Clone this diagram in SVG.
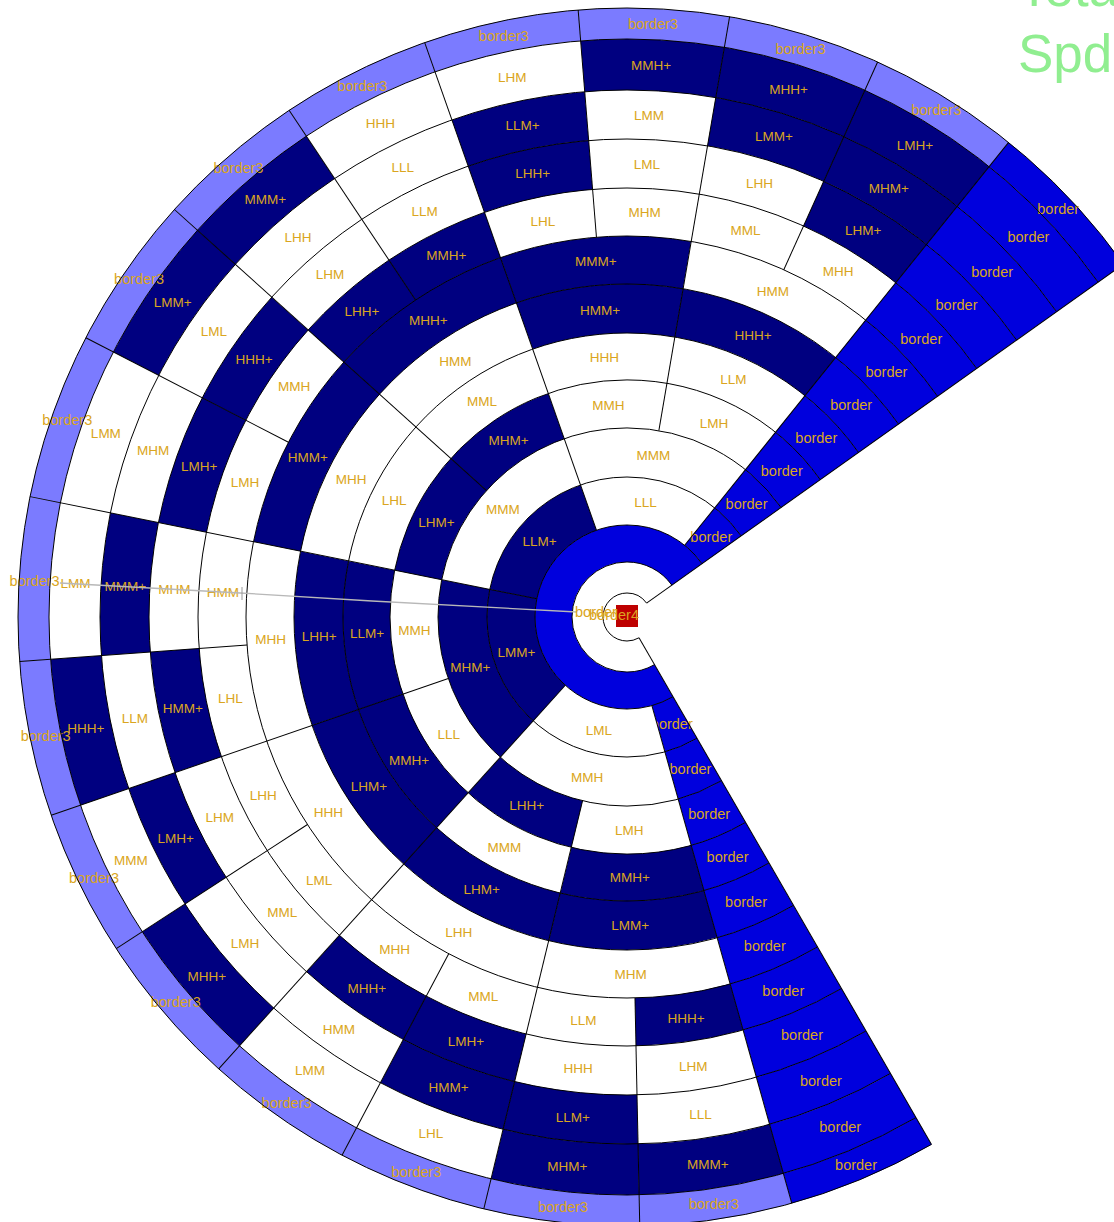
<svg xmlns="http://www.w3.org/2000/svg" width="1114" height="1222" viewBox="0 0 1114 1222">
<style>
text{font-family:"Liberation Sans",Arial,sans-serif;font-size:13.5px;fill:#DAA520;text-anchor:middle}
.bd{font-size:14.5px}
.w{stroke:#FFFFFF}.n{stroke:#000080}.b{stroke:#0000DD}.l{stroke:#7B7BFF}
.full{stroke-dasharray:264.6 400;stroke-dashoffset:-60}
.wl{stroke-dasharray:14.3 400;stroke-dashoffset:-60}
.wu{stroke-dasharray:15.8 400;stroke-dashoffset:-308.8}
.q0{stroke-dasharray:57.8 400;stroke-dashoffset:-74.3}
.q1{stroke-dasharray:59.3 400;stroke-dashoffset:-132.1}
.q2{stroke-dasharray:59.2 400;stroke-dashoffset:-191.4}
.q3{stroke-dasharray:58.2 400;stroke-dashoffset:-250.6}
.p0{stroke-dasharray:29.3 400;stroke-dashoffset:-74.3}
.p1{stroke-dasharray:28.5 400;stroke-dashoffset:-103.6}
.p2{stroke-dasharray:28.9 400;stroke-dashoffset:-132.1}
.p3{stroke-dasharray:30.4 400;stroke-dashoffset:-161}
.p4{stroke-dasharray:30.6 400;stroke-dashoffset:-191.4}
.p5{stroke-dasharray:28.6 400;stroke-dashoffset:-222}
.p6{stroke-dasharray:29.1 400;stroke-dashoffset:-250.6}
.p7{stroke-dasharray:29.1 400;stroke-dashoffset:-279.7}
.s0{stroke-dasharray:14.5 400;stroke-dashoffset:-74.3}
.s1{stroke-dasharray:14.8 400;stroke-dashoffset:-88.8}
.s2{stroke-dasharray:14.3 400;stroke-dashoffset:-103.6}
.s3{stroke-dasharray:14.2 400;stroke-dashoffset:-117.9}
.s4{stroke-dasharray:14.9 400;stroke-dashoffset:-132.1}
.s5{stroke-dasharray:14 400;stroke-dashoffset:-147}
.s6{stroke-dasharray:14.8 400;stroke-dashoffset:-161}
.s7{stroke-dasharray:15.6 400;stroke-dashoffset:-175.8}
.s8{stroke-dasharray:15.9 400;stroke-dashoffset:-191.4}
.s9{stroke-dasharray:14.7 400;stroke-dashoffset:-207.3}
.s10{stroke-dasharray:14.3 400;stroke-dashoffset:-222}
.s11{stroke-dasharray:14.3 400;stroke-dashoffset:-236.3}
.s12{stroke-dasharray:14.8 400;stroke-dashoffset:-250.6}
.s13{stroke-dasharray:14.3 400;stroke-dashoffset:-265.4}
.s14{stroke-dasharray:14.6 400;stroke-dashoffset:-279.7}
.s15{stroke-dasharray:14.5 400;stroke-dashoffset:-294.3}
.arcs path{fill:none;stroke:#000;stroke-width:1;stroke-dasharray:264.6 400;stroke-dashoffset:-60}
.rad line{stroke:#000;stroke-width:1}
</style>
<defs>
<path id="m0" fill="none" stroke-width="31" pathLength="360" d="M39.5 0A39.5 39.5 0 1 1 -39.5 0A39.5 39.5 0 1 1 39.5 0"/>
<path id="m1" fill="none" stroke-width="37" pathLength="360" d="M73.5 0A73.5 73.5 0 1 1 -73.5 0A73.5 73.5 0 1 1 73.5 0"/>
<path id="m2" fill="none" stroke-width="48" pathLength="360" d="M116 0A116 116 0 1 1 -116 0A116 116 0 1 1 116 0"/>
<path id="m3" fill="none" stroke-width="49" pathLength="360" d="M164.5 0A164.5 164.5 0 1 1 -164.5 0A164.5 164.5 0 1 1 164.5 0"/>
<path id="m4" fill="none" stroke-width="48" pathLength="360" d="M213 0A213 213 0 1 1 -213 0A213 213 0 1 1 213 0"/>
<path id="m5" fill="none" stroke-width="47" pathLength="360" d="M260.5 0A260.5 260.5 0 1 1 -260.5 0A260.5 260.5 0 1 1 260.5 0"/>
<path id="m6" fill="none" stroke-width="49" pathLength="360" d="M308.5 0A308.5 308.5 0 1 1 -308.5 0A308.5 308.5 0 1 1 308.5 0"/>
<path id="m7" fill="none" stroke-width="48" pathLength="360" d="M357 0A357 357 0 1 1 -357 0A357 357 0 1 1 357 0"/>
<path id="m8" fill="none" stroke-width="48" pathLength="360" d="M405 0A405 405 0 1 1 -405 0A405 405 0 1 1 405 0"/>
<path id="m9" fill="none" stroke-width="49" pathLength="360" d="M453.5 0A453.5 453.5 0 1 1 -453.5 0A453.5 453.5 0 1 1 453.5 0"/>
<path id="m10" fill="none" stroke-width="49" pathLength="360" d="M502.5 0A502.5 502.5 0 1 1 -502.5 0A502.5 502.5 0 1 1 502.5 0"/>
<path id="m11" fill="none" stroke-width="51" pathLength="360" d="M552.5 0A552.5 552.5 0 1 1 -552.5 0A552.5 552.5 0 1 1 552.5 0"/>
<path id="m12" fill="none" stroke-width="31" pathLength="360" d="M593.5 0A593.5 593.5 0 1 1 -593.5 0A593.5 593.5 0 1 1 593.5 0"/>
</defs>
<rect width="1114" height="1222" fill="#FFFFFF"/>
<g transform="translate(627 617)">
<g id="nodes">
<g id="n0"><use href="#m0" class="w full"/></g>
<g id="n1"><use href="#m1" class="b full"/></g>
<g id="L2">
<g id="n2-wl"><use href="#m2" class="b wl"/><text class="bd" transform="rotate(67.3) translate(116 0) rotate(-67.3)" y="5">border</text></g>
<g id="n2-0"><use href="#m2" class="w q0"/><text transform="rotate(104) translate(116 0) rotate(-104)" y="5">LML</text></g>
<g id="n2-1"><use href="#m2" class="n q1"/><text transform="rotate(162.3) translate(116 0) rotate(-162.3)" y="5">LMM+</text></g>
<g id="n2-2"><use href="#m2" class="n q2"/><text transform="rotate(221) translate(116 0) rotate(-221)" y="5">LLM+</text></g>
<g id="n2-3"><use href="#m2" class="w q3"/><text transform="rotate(279.2) translate(116 0) rotate(-279.2)" y="5">LLL</text></g>
<g id="n2-wu"><use href="#m2" class="b wu"/><text class="bd" transform="rotate(316.6) translate(116 0) rotate(-316.6)" y="5">border</text></g>
</g>
<g id="L3">
<g id="n3-wl"><use href="#m3" class="b wl"/><text class="bd" transform="rotate(67.3) translate(164.5 0) rotate(-67.3)" y="5">border</text></g>
<g id="n3-0"><use href="#m3" class="w q0"/><text transform="rotate(104) translate(164.5 0) rotate(-104)" y="5">MMH</text></g>
<g id="n3-1"><use href="#m3" class="n q1"/><text transform="rotate(162.3) translate(164.5 0) rotate(-162.3)" y="5">MHM+</text></g>
<g id="n3-2"><use href="#m3" class="w q2"/><text transform="rotate(221) translate(164.5 0) rotate(-221)" y="5">MMM</text></g>
<g id="n3-3"><use href="#m3" class="w q3"/><text transform="rotate(279.2) translate(164.5 0) rotate(-279.2)" y="5">MMM</text></g>
<g id="n3-wu"><use href="#m3" class="b wu"/><text class="bd" transform="rotate(316.6) translate(164.5 0) rotate(-316.6)" y="5">border</text></g>
</g>
<g id="L4">
<g id="n4-wl"><use href="#m4" class="b wl"/><text class="bd" transform="rotate(67.3) translate(213 0) rotate(-67.3)" y="5">border</text></g>
<g id="n4-0"><use href="#m4" class="w p0"/><text transform="rotate(89.4) translate(213 0) rotate(-89.4)" y="5">LMH</text></g>
<g id="n4-1"><use href="#m4" class="n p1"/><text transform="rotate(118.1) translate(213 0) rotate(-118.1)" y="5">LHH+</text></g>
<g id="n4-2"><use href="#m4" class="w p2"/><text transform="rotate(146.8) translate(213 0) rotate(-146.8)" y="5">LLL</text></g>
<g id="n4-3"><use href="#m4" class="w p3"/><text transform="rotate(176.4) translate(213 0) rotate(-176.4)" y="5">MMH</text></g>
<g id="n4-4"><use href="#m4" class="n p4"/><text transform="rotate(206.6) translate(213 0) rotate(-206.6)" y="5">LHM+</text></g>
<g id="n4-5"><use href="#m4" class="n p5"/><text transform="rotate(236.2) translate(213 0) rotate(-236.2)" y="5">MHM+</text></g>
<g id="n4-6"><use href="#m4" class="w p6"/><text transform="rotate(265) translate(213 0) rotate(-265)" y="5">MMH</text></g>
<g id="n4-7"><use href="#m4" class="w p7"/><text transform="rotate(294.1) translate(213 0) rotate(-294.1)" y="5">LMH</text></g>
<g id="n4-wu"><use href="#m4" class="b wu"/><text class="bd" transform="rotate(316.6) translate(213 0) rotate(-316.6)" y="5">border</text></g>
</g>
<g id="L5">
<g id="n5-wl"><use href="#m5" class="b wl"/><text class="bd" transform="rotate(67.3) translate(260.5 0) rotate(-67.3)" y="5">border</text></g>
<g id="n5-0"><use href="#m5" class="n p0"/><text transform="rotate(89.4) translate(260.5 0) rotate(-89.4)" y="5">MMH+</text></g>
<g id="n5-1"><use href="#m5" class="w p1"/><text transform="rotate(118.1) translate(260.5 0) rotate(-118.1)" y="5">MMM</text></g>
<g id="n5-2"><use href="#m5" class="n p2"/><text transform="rotate(146.8) translate(260.5 0) rotate(-146.8)" y="5">MMH+</text></g>
<g id="n5-3"><use href="#m5" class="n p3"/><text transform="rotate(176.4) translate(260.5 0) rotate(-176.4)" y="5">LLM+</text></g>
<g id="n5-4"><use href="#m5" class="w p4"/><text transform="rotate(206.6) translate(260.5 0) rotate(-206.6)" y="5">LHL</text></g>
<g id="n5-5"><use href="#m5" class="w p5"/><text transform="rotate(236.2) translate(260.5 0) rotate(-236.2)" y="5">MML</text></g>
<g id="n5-6"><use href="#m5" class="w p6"/><text transform="rotate(265) translate(260.5 0) rotate(-265)" y="5">HHH</text></g>
<g id="n5-7"><use href="#m5" class="w p7"/><text transform="rotate(294.1) translate(260.5 0) rotate(-294.1)" y="5">LLM</text></g>
<g id="n5-wu"><use href="#m5" class="b wu"/><text class="bd" transform="rotate(316.6) translate(260.5 0) rotate(-316.6)" y="5">border</text></g>
</g>
<g id="L6">
<g id="n6-wl"><use href="#m6" class="b wl"/><text class="bd" transform="rotate(67.3) translate(308.5 0) rotate(-67.3)" y="5">border</text></g>
<g id="n6-0"><use href="#m6" class="n p0"/><text transform="rotate(89.4) translate(308.5 0) rotate(-89.4)" y="5">LMM+</text></g>
<g id="n6-1"><use href="#m6" class="n p1"/><text transform="rotate(118.1) translate(308.5 0) rotate(-118.1)" y="5">LHM+</text></g>
<g id="n6-2"><use href="#m6" class="n p2"/><text transform="rotate(146.8) translate(308.5 0) rotate(-146.8)" y="5">LHM+</text></g>
<g id="n6-3"><use href="#m6" class="n p3"/><text transform="rotate(176.4) translate(308.5 0) rotate(-176.4)" y="5">LHH+</text></g>
<g id="n6-4"><use href="#m6" class="w p4"/><text transform="rotate(206.6) translate(308.5 0) rotate(-206.6)" y="5">MHH</text></g>
<g id="n6-5"><use href="#m6" class="w p5"/><text transform="rotate(236.2) translate(308.5 0) rotate(-236.2)" y="5">HMM</text></g>
<g id="n6-6"><use href="#m6" class="n p6"/><text transform="rotate(265) translate(308.5 0) rotate(-265)" y="5">HMM+</text></g>
<g id="n6-7"><use href="#m6" class="n p7"/><text transform="rotate(294.1) translate(308.5 0) rotate(-294.1)" y="5">HHH+</text></g>
<g id="n6-wu"><use href="#m6" class="b wu"/><text class="bd" transform="rotate(316.6) translate(308.5 0) rotate(-316.6)" y="5">border</text></g>
</g>
<g id="L7">
<g id="n7-wl"><use href="#m7" class="b wl"/><text class="bd" transform="rotate(67.3) translate(357 0) rotate(-67.3)" y="5">border</text></g>
<g id="n7-0"><use href="#m7" class="w p0"/><text transform="rotate(89.4) translate(357 0) rotate(-89.4)" y="5">MHM</text></g>
<g id="n7-1"><use href="#m7" class="w p1"/><text transform="rotate(118.1) translate(357 0) rotate(-118.1)" y="5">LHH</text></g>
<g id="n7-2"><use href="#m7" class="w p2"/><text transform="rotate(146.8) translate(357 0) rotate(-146.8)" y="5">HHH</text></g>
<g id="n7-3"><use href="#m7" class="w p3"/><text transform="rotate(176.4) translate(357 0) rotate(-176.4)" y="5">MHH</text></g>
<g id="n7-4"><use href="#m7" class="n p4"/><text transform="rotate(206.6) translate(357 0) rotate(-206.6)" y="5">HMM+</text></g>
<g id="n7-5"><use href="#m7" class="n p5"/><text transform="rotate(236.2) translate(357 0) rotate(-236.2)" y="5">MHH+</text></g>
<g id="n7-6"><use href="#m7" class="n p6"/><text transform="rotate(265) translate(357 0) rotate(-265)" y="5">MMM+</text></g>
<g id="n7-7"><use href="#m7" class="w p7"/><text transform="rotate(294.1) translate(357 0) rotate(-294.1)" y="5">HMM</text></g>
<g id="n7-wu"><use href="#m7" class="b wu"/><text class="bd" transform="rotate(316.6) translate(357 0) rotate(-316.6)" y="5">border</text></g>
</g>
<g id="L8">
<g id="n8-wl"><use href="#m8" class="b wl"/><text class="bd" transform="rotate(67.3) translate(405 0) rotate(-67.3)" y="5">border</text></g>
<g id="n8-0"><use href="#m8" class="n s0"/><text transform="rotate(81.6) translate(405 0) rotate(-81.6)" y="5">HHH+</text></g>
<g id="n8-1"><use href="#m8" class="w s1"/><text transform="rotate(96.2) translate(405 0) rotate(-96.2)" y="5">LLM</text></g>
<g id="n8-2"><use href="#m8" class="w s2"/><text transform="rotate(110.8) translate(405 0) rotate(-110.8)" y="5">MML</text></g>
<g id="n8-3"><use href="#m8" class="w s3"/><text transform="rotate(125) translate(405 0) rotate(-125)" y="5">MHH</text></g>
<g id="n8-4"><use href="#m8" class="w s4"/><text transform="rotate(139.5) translate(405 0) rotate(-139.5)" y="5">LML</text></g>
<g id="n8-5"><use href="#m8" class="w s5"/><text transform="rotate(153.9) translate(405 0) rotate(-153.9)" y="5">LHH</text></g>
<g id="n8-6"><use href="#m8" class="w s6"/><text transform="rotate(168.4) translate(405 0) rotate(-168.4)" y="5">LHL</text></g>
<g id="n8-7"><use href="#m8" class="w s7"/><text transform="rotate(183.5) translate(405 0) rotate(-183.5)" y="5">HMM</text></g>
<g id="n8-8"><use href="#m8" class="w s8"/><text transform="rotate(199.4) translate(405 0) rotate(-199.4)" y="5">LMH</text></g>
<g id="n8-9"><use href="#m8" class="w s9"/><text transform="rotate(214.7) translate(405 0) rotate(-214.7)" y="5">MMH</text></g>
<g id="n8-10"><use href="#m8" class="n s10"/><text transform="rotate(229.1) translate(405 0) rotate(-229.1)" y="5">LHH+</text></g>
<g id="n8-11"><use href="#m8" class="n s11"/><text transform="rotate(243.5) translate(405 0) rotate(-243.5)" y="5">MMH+</text></g>
<g id="n8-12"><use href="#m8" class="w s12"/><text transform="rotate(258) translate(405 0) rotate(-258)" y="5">LHL</text></g>
<g id="n8-13"><use href="#m8" class="w s13"/><text transform="rotate(272.5) translate(405 0) rotate(-272.5)" y="5">MHM</text></g>
<g id="n8-14"><use href="#m8" class="w s14"/><text transform="rotate(287) translate(405 0) rotate(-287)" y="5">MML</text></g>
<g id="n8-15"><use href="#m8" class="w s15"/><text transform="rotate(301.4) translate(405 0) rotate(-301.4)" y="5">MHH</text></g>
<g id="n8-wu"><use href="#m8" class="b wu"/><text class="bd" transform="rotate(316.6) translate(405 0) rotate(-316.6)" y="5">border</text></g>
</g>
<g id="L9">
<g id="n9-wl"><use href="#m9" class="b wl"/><text class="bd" transform="rotate(67.3) translate(453.5 0) rotate(-67.3)" y="5">border</text></g>
<g id="n9-0"><use href="#m9" class="w s0"/><text transform="rotate(81.6) translate(453.5 0) rotate(-81.6)" y="5">LHM</text></g>
<g id="n9-1"><use href="#m9" class="w s1"/><text transform="rotate(96.2) translate(453.5 0) rotate(-96.2)" y="5">HHH</text></g>
<g id="n9-2"><use href="#m9" class="n s2"/><text transform="rotate(110.8) translate(453.5 0) rotate(-110.8)" y="5">LMH+</text></g>
<g id="n9-3"><use href="#m9" class="n s3"/><text transform="rotate(125) translate(453.5 0) rotate(-125)" y="5">MHH+</text></g>
<g id="n9-4"><use href="#m9" class="w s4"/><text transform="rotate(139.5) translate(453.5 0) rotate(-139.5)" y="5">MML</text></g>
<g id="n9-5"><use href="#m9" class="w s5"/><text transform="rotate(153.9) translate(453.5 0) rotate(-153.9)" y="5">LHM</text></g>
<g id="n9-6"><use href="#m9" class="n s6"/><text transform="rotate(168.4) translate(453.5 0) rotate(-168.4)" y="5">HMM+</text></g>
<g id="n9-7"><use href="#m9" class="w s7"/><text transform="rotate(183.5) translate(453.5 0) rotate(-183.5)" y="5">MHM</text></g>
<g id="n9-8"><use href="#m9" class="n s8"/><text transform="rotate(199.4) translate(453.5 0) rotate(-199.4)" y="5">LMH+</text></g>
<g id="n9-9"><use href="#m9" class="n s9"/><text transform="rotate(214.7) translate(453.5 0) rotate(-214.7)" y="5">HHH+</text></g>
<g id="n9-10"><use href="#m9" class="w s10"/><text transform="rotate(229.1) translate(453.5 0) rotate(-229.1)" y="5">LHM</text></g>
<g id="n9-11"><use href="#m9" class="w s11"/><text transform="rotate(243.5) translate(453.5 0) rotate(-243.5)" y="5">LLM</text></g>
<g id="n9-12"><use href="#m9" class="n s12"/><text transform="rotate(258) translate(453.5 0) rotate(-258)" y="5">LHH+</text></g>
<g id="n9-13"><use href="#m9" class="w s13"/><text transform="rotate(272.5) translate(453.5 0) rotate(-272.5)" y="5">LML</text></g>
<g id="n9-14"><use href="#m9" class="w s14"/><text transform="rotate(287) translate(453.5 0) rotate(-287)" y="5">LHH</text></g>
<g id="n9-15"><use href="#m9" class="n s15"/><text transform="rotate(301.4) translate(453.5 0) rotate(-301.4)" y="5">LHM+</text></g>
<g id="n9-wu"><use href="#m9" class="b wu"/><text class="bd" transform="rotate(316.6) translate(453.5 0) rotate(-316.6)" y="5">border</text></g>
</g>
<g id="L10">
<g id="n10-wl"><use href="#m10" class="b wl"/><text class="bd" transform="rotate(67.3) translate(502.5 0) rotate(-67.3)" y="5">border</text></g>
<g id="n10-0"><use href="#m10" class="w s0"/><text transform="rotate(81.6) translate(502.5 0) rotate(-81.6)" y="5">LLL</text></g>
<g id="n10-1"><use href="#m10" class="n s1"/><text transform="rotate(96.2) translate(502.5 0) rotate(-96.2)" y="5">LLM+</text></g>
<g id="n10-2"><use href="#m10" class="n s2"/><text transform="rotate(110.8) translate(502.5 0) rotate(-110.8)" y="5">HMM+</text></g>
<g id="n10-3"><use href="#m10" class="w s3"/><text transform="rotate(125) translate(502.5 0) rotate(-125)" y="5">HMM</text></g>
<g id="n10-4"><use href="#m10" class="w s4"/><text transform="rotate(139.5) translate(502.5 0) rotate(-139.5)" y="5">LMH</text></g>
<g id="n10-5"><use href="#m10" class="n s5"/><text transform="rotate(153.9) translate(502.5 0) rotate(-153.9)" y="5">LMH+</text></g>
<g id="n10-6"><use href="#m10" class="w s6"/><text transform="rotate(168.4) translate(502.5 0) rotate(-168.4)" y="5">LLM</text></g>
<g id="n10-7"><use href="#m10" class="n s7"/><text transform="rotate(183.5) translate(502.5 0) rotate(-183.5)" y="5">MMM+</text></g>
<g id="n10-8"><use href="#m10" class="w s8"/><text transform="rotate(199.4) translate(502.5 0) rotate(-199.4)" y="5">MHM</text></g>
<g id="n10-9"><use href="#m10" class="w s9"/><text transform="rotate(214.7) translate(502.5 0) rotate(-214.7)" y="5">LML</text></g>
<g id="n10-10"><use href="#m10" class="w s10"/><text transform="rotate(229.1) translate(502.5 0) rotate(-229.1)" y="5">LHH</text></g>
<g id="n10-11"><use href="#m10" class="w s11"/><text transform="rotate(243.5) translate(502.5 0) rotate(-243.5)" y="5">LLL</text></g>
<g id="n10-12"><use href="#m10" class="n s12"/><text transform="rotate(258) translate(502.5 0) rotate(-258)" y="5">LLM+</text></g>
<g id="n10-13"><use href="#m10" class="w s13"/><text transform="rotate(272.5) translate(502.5 0) rotate(-272.5)" y="5">LMM</text></g>
<g id="n10-14"><use href="#m10" class="n s14"/><text transform="rotate(287) translate(502.5 0) rotate(-287)" y="5">LMM+</text></g>
<g id="n10-15"><use href="#m10" class="n s15"/><text transform="rotate(301.4) translate(502.5 0) rotate(-301.4)" y="5">MHM+</text></g>
<g id="n10-wu"><use href="#m10" class="b wu"/><text class="bd" transform="rotate(316.6) translate(502.5 0) rotate(-316.6)" y="5">border</text></g>
</g>
<g id="L11">
<g id="n11-wl"><use href="#m11" class="b wl"/><text class="bd" transform="rotate(67.3) translate(552.5 0) rotate(-67.3)" y="5">border</text></g>
<g id="n11-0"><use href="#m11" class="n s0"/><text transform="rotate(81.6) translate(552.5 0) rotate(-81.6)" y="5">MMM+</text></g>
<g id="n11-1"><use href="#m11" class="n s1"/><text transform="rotate(96.2) translate(552.5 0) rotate(-96.2)" y="5">MHM+</text></g>
<g id="n11-2"><use href="#m11" class="w s2"/><text transform="rotate(110.8) translate(552.5 0) rotate(-110.8)" y="5">LHL</text></g>
<g id="n11-3"><use href="#m11" class="w s3"/><text transform="rotate(125) translate(552.5 0) rotate(-125)" y="5">LMM</text></g>
<g id="n11-4"><use href="#m11" class="n s4"/><text transform="rotate(139.5) translate(552.5 0) rotate(-139.5)" y="5">MHH+</text></g>
<g id="n11-5"><use href="#m11" class="w s5"/><text transform="rotate(153.9) translate(552.5 0) rotate(-153.9)" y="5">MMM</text></g>
<g id="n11-6"><use href="#m11" class="n s6"/><text transform="rotate(168.4) translate(552.5 0) rotate(-168.4)" y="5">HHH+</text></g>
<g id="n11-7"><use href="#m11" class="w s7"/><text transform="rotate(183.5) translate(552.5 0) rotate(-183.5)" y="5">LMM</text></g>
<g id="n11-8"><use href="#m11" class="w s8"/><text transform="rotate(199.4) translate(552.5 0) rotate(-199.4)" y="5">LMM</text></g>
<g id="n11-9"><use href="#m11" class="n s9"/><text transform="rotate(214.7) translate(552.5 0) rotate(-214.7)" y="5">LMM+</text></g>
<g id="n11-10"><use href="#m11" class="n s10"/><text transform="rotate(229.1) translate(552.5 0) rotate(-229.1)" y="5">MMM+</text></g>
<g id="n11-11"><use href="#m11" class="w s11"/><text transform="rotate(243.5) translate(552.5 0) rotate(-243.5)" y="5">HHH</text></g>
<g id="n11-12"><use href="#m11" class="w s12"/><text transform="rotate(258) translate(552.5 0) rotate(-258)" y="5">LHM</text></g>
<g id="n11-13"><use href="#m11" class="n s13"/><text transform="rotate(272.5) translate(552.5 0) rotate(-272.5)" y="5">MMH+</text></g>
<g id="n11-14"><use href="#m11" class="n s14"/><text transform="rotate(287) translate(552.5 0) rotate(-287)" y="5">MHH+</text></g>
<g id="n11-15"><use href="#m11" class="n s15"/><text transform="rotate(301.4) translate(552.5 0) rotate(-301.4)" y="5">LMH+</text></g>
<g id="n11-wu"><use href="#m11" class="b wu"/><text class="bd" transform="rotate(316.6) translate(552.5 0) rotate(-316.6)" y="5">border</text></g>
</g>
<g id="L12">
<g id="n12-wl"><use href="#m12" class="b wl"/><text class="bd" transform="rotate(67.3) translate(593.5 0) rotate(-67.3)" y="5">border</text></g>
<g id="n12-0"><use href="#m12" class="l s0"/><text class="bd" transform="rotate(81.6) translate(593.5 0) rotate(-81.6)" y="5">border3</text></g>
<g id="n12-1"><use href="#m12" class="l s1"/><text class="bd" transform="rotate(96.2) translate(593.5 0) rotate(-96.2)" y="5">border3</text></g>
<g id="n12-2"><use href="#m12" class="l s2"/><text class="bd" transform="rotate(110.8) translate(593.5 0) rotate(-110.8)" y="5">border3</text></g>
<g id="n12-3"><use href="#m12" class="l s3"/><text class="bd" transform="rotate(125) translate(593.5 0) rotate(-125)" y="5">border3</text></g>
<g id="n12-4"><use href="#m12" class="l s4"/><text class="bd" transform="rotate(139.5) translate(593.5 0) rotate(-139.5)" y="5">border3</text></g>
<g id="n12-5"><use href="#m12" class="l s5"/><text class="bd" transform="rotate(153.9) translate(593.5 0) rotate(-153.9)" y="5">border3</text></g>
<g id="n12-6"><use href="#m12" class="l s6"/><text class="bd" transform="rotate(168.4) translate(593.5 0) rotate(-168.4)" y="5">border3</text></g>
<g id="n12-7"><use href="#m12" class="l s7"/><text class="bd" transform="rotate(183.5) translate(593.5 0) rotate(-183.5)" y="5">border3</text></g>
<g id="n12-8"><use href="#m12" class="l s8"/><text class="bd" transform="rotate(199.4) translate(593.5 0) rotate(-199.4)" y="5">border3</text></g>
<g id="n12-9"><use href="#m12" class="l s9"/><text class="bd" transform="rotate(214.7) translate(593.5 0) rotate(-214.7)" y="5">border3</text></g>
<g id="n12-10"><use href="#m12" class="l s10"/><text class="bd" transform="rotate(229.1) translate(593.5 0) rotate(-229.1)" y="5">border3</text></g>
<g id="n12-11"><use href="#m12" class="l s11"/><text class="bd" transform="rotate(243.5) translate(593.5 0) rotate(-243.5)" y="5">border3</text></g>
<g id="n12-12"><use href="#m12" class="l s12"/><text class="bd" transform="rotate(258) translate(593.5 0) rotate(-258)" y="5">border3</text></g>
<g id="n12-13"><use href="#m12" class="l s13"/><text class="bd" transform="rotate(272.5) translate(593.5 0) rotate(-272.5)" y="5">border3</text></g>
<g id="n12-14"><use href="#m12" class="l s14"/><text class="bd" transform="rotate(287) translate(593.5 0) rotate(-287)" y="5">border3</text></g>
<g id="n12-15"><use href="#m12" class="l s15"/><text class="bd" transform="rotate(301.4) translate(593.5 0) rotate(-301.4)" y="5">border3</text></g>
<g id="n12-wu"><use href="#m12" class="b wu"/><text class="bd" transform="rotate(316.6) translate(593.5 0) rotate(-316.6)" y="5">border</text></g>
</g>
</g>
<g id="outlines">
<g class="arcs">
<path pathLength="360" d="M24 0A24 24 0 1 1 -24 0A24 24 0 1 1 24 0"/>
<path pathLength="360" d="M55 0A55 55 0 1 1 -55 0A55 55 0 1 1 55 0"/>
<path pathLength="360" d="M92 0A92 92 0 1 1 -92 0A92 92 0 1 1 92 0"/>
<path pathLength="360" d="M140 0A140 140 0 1 1 -140 0A140 140 0 1 1 140 0"/>
<path pathLength="360" d="M189 0A189 189 0 1 1 -189 0A189 189 0 1 1 189 0"/>
<path pathLength="360" d="M237 0A237 237 0 1 1 -237 0A237 237 0 1 1 237 0"/>
<path pathLength="360" d="M284 0A284 284 0 1 1 -284 0A284 284 0 1 1 284 0"/>
<path pathLength="360" d="M333 0A333 333 0 1 1 -333 0A333 333 0 1 1 333 0"/>
<path pathLength="360" d="M381 0A381 381 0 1 1 -381 0A381 381 0 1 1 381 0"/>
<path pathLength="360" d="M429 0A429 429 0 1 1 -429 0A429 429 0 1 1 429 0"/>
<path pathLength="360" d="M478 0A478 478 0 1 1 -478 0A478 478 0 1 1 478 0"/>
<path pathLength="360" d="M527 0A527 527 0 1 1 -527 0A527 527 0 1 1 527 0"/>
<path pathLength="360" d="M578 0A578 578 0 1 1 -578 0A578 578 0 1 1 578 0"/>
<path pathLength="360" d="M609 0A609 609 0 1 1 -609 0A609 609 0 1 1 609 0"/>
</g>
<g class="rad">
<line x1="24" x2="609" transform="rotate(60)"/>
<line x1="24" x2="609" transform="rotate(324.6)"/>
<line x1="92" x2="609" transform="rotate(74.3)"/>
<line x1="92" x2="609" transform="rotate(308.8)"/>
<line x1="92" x2="609" transform="rotate(132.1)"/>
<line x1="92" x2="609" transform="rotate(191.4)"/>
<line x1="92" x2="609" transform="rotate(250.6)"/>
<line x1="189" x2="609" transform="rotate(103.6)"/>
<line x1="189" x2="609" transform="rotate(161)"/>
<line x1="189" x2="609" transform="rotate(222)"/>
<line x1="189" x2="609" transform="rotate(279.7)"/>
<line x1="381" x2="609" transform="rotate(88.8)"/>
<line x1="381" x2="609" transform="rotate(117.9)"/>
<line x1="381" x2="609" transform="rotate(147)"/>
<line x1="381" x2="609" transform="rotate(175.8)"/>
<line x1="381" x2="609" transform="rotate(207.3)"/>
<line x1="381" x2="609" transform="rotate(236.3)"/>
<line x1="381" x2="609" transform="rotate(265.4)"/>
<line x1="381" x2="609" transform="rotate(294.3)"/>
</g>
</g>
</g>
<g id="connectors">
<polyline points="60,583 240,593 372,601 577,612" fill="none" stroke="#B8B8B8" stroke-width="1.3"/>
<line x1="242" y1="587" x2="242" y2="600" stroke="#999999" stroke-width="1"/>
</g>
<g id="root">
<rect x="616" y="605" width="22" height="22" fill="#BE0000"/>
<text class="bd" x="596" y="617">border</text>
<text class="bd" x="614" y="620">border4</text>
</g>
<g id="title">
<text x="1018" y="6" style="font-size:53px;fill:#90EE90;text-anchor:start">Tota</text>
<text x="1018" y="72" style="font-size:53px;fill:#90EE90;text-anchor:start">Spd</text>
</g>
</svg>
